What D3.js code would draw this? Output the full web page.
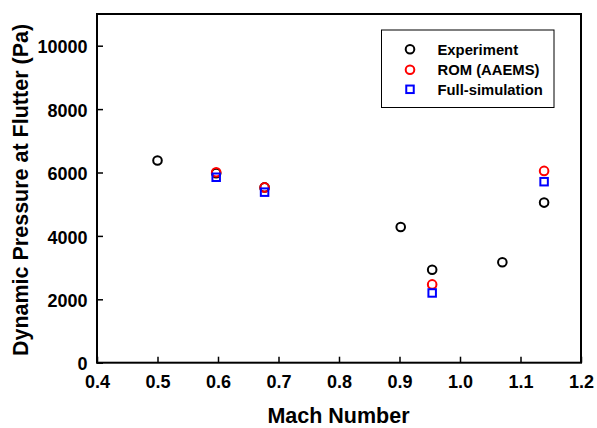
<!DOCTYPE html>
<html><head><meta charset="utf-8">
<script src="https://cdn.jsdelivr.net/npm/d3@7"></script>
<style>body{margin:0;background:#fff}svg{display:block}text{font-family:"Liberation Sans",Arial,sans-serif;font-weight:bold}</style>
</head><body>
<script>
const expMach = [0.5, 0.597, 0.677, 0.902, 0.954, 1.07, 1.139];
const expQ = [6380, 5980, 5530, 4280, 2930, 3170, 5050];
const romMach = [0.597, 0.677, 0.954, 1.139];
const romQ = [6010, 5530, 2470, 6050];
const simMach = [0.597, 0.677, 0.954, 1.139];
const simQ = [5850, 5380, 2200, 5710];
const xTicks = [0.4, 0.5, 0.6, 0.7, 0.8, 0.9, 1.0, 1.1, 1.2];
const yTicks = [0, 2000, 4000, 6000, 8000, 10000];
const legendLabels = ["Experiment", "ROM (AAEMS)", "Full-simulation"];

const W = 597, H = 428;
const L = 97, R = 581, T = 14, B = 362.7;
const svg = d3.select("body").append("svg").attr("width", W).attr("height", H);
const x = d3.scaleLinear().domain([0.4, 1.2]).range([L, R]);
const y = d3.scaleLinear().domain([0, 11000]).range([B, T]);

const gx = svg.append("g").attr("transform", `translate(0,${B})`)
  .call(d3.axisBottom(x).tickValues(xTicks).tickFormat(d3.format(".1f")).tickSizeInner(-6).tickSizeOuter(0).tickPadding(13));
gx.select(".domain").remove();
gx.selectAll("line").attr("stroke", "#000").attr("stroke-width", 1.5);
gx.selectAll("text").attr("font-size", 18).attr("fill", "#000");

const gy = svg.append("g").attr("transform", `translate(${L},0)`)
  .call(d3.axisLeft(y).tickValues(yTicks).tickFormat(d3.format("d")).tickSizeInner(-6).tickSizeOuter(0).tickPadding(9.5));
gy.select(".domain").remove();
gy.selectAll("line").attr("stroke", "#000").attr("stroke-width", 1.5);
gy.selectAll("text").attr("font-size", 18).attr("fill", "#000").attr("dy", "0.4em");

svg.append("rect").attr("x", L).attr("y", T).attr("width", R - L).attr("height", B - T)
  .attr("fill", "none").attr("stroke", "#000").attr("stroke-width", 2);

// markers
const r = 4.3, s = 7.5;
svg.append("g").selectAll("circle").data(expMach.map((m, i) => [m, expQ[i]])).join("circle")
  .attr("cx", d => x(d[0])).attr("cy", d => y(d[1])).attr("r", r)
  .attr("fill", "none").attr("stroke", "#000").attr("stroke-width", 2);
svg.append("g").selectAll("circle").data(romMach.map((m, i) => [m, romQ[i]])).join("circle")
  .attr("cx", d => x(d[0])).attr("cy", d => y(d[1])).attr("r", r)
  .attr("fill", "none").attr("stroke", "#ff0000").attr("stroke-width", 2);
svg.append("g").selectAll("rect").data(simMach.map((m, i) => [m, simQ[i]])).join("rect")
  .attr("x", d => x(d[0]) - s / 2).attr("y", d => y(d[1]) - s / 2).attr("width", s).attr("height", s)
  .attr("fill", "none").attr("stroke", "#0000ff").attr("stroke-width", 2);

// legend
const lg = svg.append("g");
lg.append("rect").attr("x", 381.5).attr("y", 30).attr("width", 172.5).attr("height", 77.5)
  .attr("fill", "#fff").attr("stroke", "#000").attr("stroke-width", 1);
const rows = [49.3, 69.8, 89.3];
lg.append("circle").attr("cx", 410).attr("cy", rows[0]).attr("r", r).attr("fill", "none").attr("stroke", "#000").attr("stroke-width", 2);
lg.append("circle").attr("cx", 410).attr("cy", rows[1]).attr("r", r).attr("fill", "none").attr("stroke", "#ff0000").attr("stroke-width", 2);
lg.append("rect").attr("x", 410 - s / 2).attr("y", rows[2] - s / 2).attr("width", s).attr("height", s).attr("fill", "none").attr("stroke", "#0000ff").attr("stroke-width", 2);
legendLabels.forEach((t, i) => {
  lg.append("text").attr("x", 437.5).attr("y", rows[i]).attr("dy", "0.36em").attr("font-size", 14.8).text(t);
});

// axis titles
svg.append("text").attr("x", (L + R) / 2 - 0.5).attr("y", 423).attr("text-anchor", "middle").attr("font-size", 21.5).text("Mach Number");
svg.append("text").attr("transform", "translate(27.5,190) rotate(-90)").attr("text-anchor", "middle").attr("font-size", 21.5).text("Dynamic Pressure at Flutter (Pa)");
</script>
</body></html>
